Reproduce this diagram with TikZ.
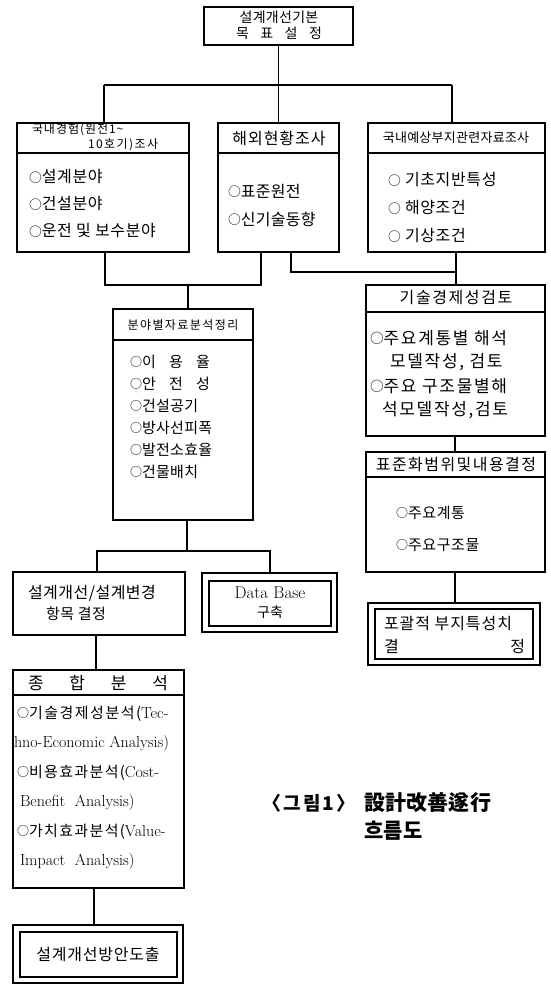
\documentclass[tikz,border=0pt]{standalone}
\usepackage{fontspec}
\usepackage{graphicx}
\newfontfamily\kr{Noto Sans CJK KR}
\newcommand\K[2]{\kr\fontsize{#1}{#1}\selectfont\addfontfeature{LetterSpace=#2}}
\newcommand\LM[1]{\rmfamily\fontsize{#1}{#1}\selectfont}
\newcommand\oo{\raisebox{0.06em}{\scalebox{0.8}{○}}}
\begin{document}
\begin{tikzpicture}[x=1pt,y=-1pt,
  box/.style={draw, line width=1.6pt, rectangle, inner sep=0pt, outer sep=0pt, anchor=north west},
  conn/.style={line width=1.6pt},
  txt/.style={inner sep=0pt, outer sep=0pt},
  itm/.style={txt, anchor=west}]
\useasboundingbox (0,0) rectangle (551,987);

% ---------------- boxes ----------------
\node[box, minimum width=149pt, minimum height=38pt] (top) at (204,7) {};
\node[box, minimum width=172pt, minimum height=129pt] (L) at (17,123) {};
\node[box, minimum width=121pt, minimum height=129pt] (M) at (218,123) {};
\node[box, minimum width=177pt, minimum height=129pt] (R) at (368,123) {};
\node[box, minimum width=179pt, minimum height=151pt] (T) at (366,285) {};
\node[box, minimum width=140pt, minimum height=211pt] (B) at (113,309) {};
\node[box, minimum width=179pt, minimum height=120pt] (S) at (366,452) {};
\node[box, minimum width=172pt, minimum height=62pt] (P) at (368,603) {};
\node[box, minimum width=158pt, minimum height=50pt] (Pin) at (375,609) {};
\node[box, minimum width=172pt, minimum height=63pt] (D) at (13,572) {};
\node[box, minimum width=135pt, minimum height=59pt] (DB) at (202,573) {};
\node[box, minimum width=122pt, minimum height=45pt] (DBin) at (209,581) {};
\node[box, minimum width=171pt, minimum height=218pt] (C) at (13,670) {};
\node[box, minimum width=170pt, minimum height=58pt] (F) at (13,925) {};
\node[box, minimum width=157pt, minimum height=45pt] (Fin) at (20,932) {};

% header separators
\coordinate (hL) at (0,153);
\coordinate (hT) at (0,312);
\coordinate (hB) at (0,340);
\coordinate (hS) at (0,477);
\coordinate (hC) at (0,695);
\draw[conn] (L.west |- hL) -- (L.east |- hL);
\draw[conn] (M.west |- hL) -- (M.east |- hL);
\draw[conn] (R.west |- hL) -- (R.east |- hL);
\draw[conn] (T.west |- hT) -- (T.east |- hT);
\draw[conn] (B.west |- hB) -- (B.east |- hB);
\draw[conn] (S.west |- hS) -- (S.east |- hS);
\draw[conn] (C.west |- hC) -- (C.east |- hC);

% ---------------- connectors ----------------
\coordinate (busL) at (104,85);
\coordinate (busR) at (452,85);
\draw[conn] (top.south) -- (top.south |- busL);
\draw[conn] (busL) -- (busR);
\draw[conn] (busL) -- (busL |- L.north);
\draw[conn] (top.south |- busL) -- (M.north);
\draw[conn] (busR) -- (busR |- R.north);

\coordinate (j1) at (105,285);
\coordinate (j2) at (261,285);
\coordinate (j3) at (188,285);
\draw[conn] (j1 |- L.south) -- (j1) -- (j2) -- (j2 |- M.south);
\draw[conn] (j3) -- (j3 |- B.north);
\coordinate (k1) at (291,272);
\coordinate (k2) at (456,272);
\draw[conn] (k1 |- M.south) -- (k1) -- (k2);
\draw[conn] (k2 |- R.south) -- (k2 |- T.north);
\coordinate (k3) at (455,0);
\draw[conn] (k3 |- T.south) -- (k3 |- S.north);
\draw[conn] (k3 |- S.south) -- (k3 |- P.north);

\coordinate (m1) at (97,551);
\coordinate (m2) at (270,551);
\coordinate (m3) at (187,551);
\draw[conn] (m3 |- B.south) -- (m3);
\draw[conn] (m1 |- D.north) -- (m1) -- (m2) -- (m2 |- DB.north);
\coordinate (n1) at (96,0);
\coordinate (n2) at (94,0);
\draw[conn] (n1 |- D.south) -- (n1 |- C.north);
\draw[conn] (n2 |- C.south) -- (n2 |- F.north);

% ---------------- texts ----------------
\node[txt] (ta1) at (279,17) {\K{14}{2}설계개선기본};
\node[txt] (ta2) at (279,33) {\K{14}{0}\makebox[86pt][s]{목\hfill 표\hfill 설\hfill 정}};

\node[itm] (tl0) at (32,130) {\K{12}{8}국내경험(원전1\textasciitilde};
\node[itm] (tl1) at (88,145) {\K{12}{12}10호기)조사};
\node[itm] (tl2) at (29,177) {\K{16}{4}\oo 설계분야};
\node[itm] (tl3) at (29,204) {\K{16}{4}\oo 건설분야};
\node[itm] (tl4) at (29,231) {\K{16}{4}\oo 운전 및 보수분야};

\node[txt] (tm0) at (279,138) {\K{16}{6}해외현황조사};
\node[itm] (tm1) at (228,191) {\K{16}{2}\oo 표준원전};
\node[itm] (tm2) at (228,219) {\K{16}{2}\oo 신기술동향};

\node[txt] (tr0) at (456,138) {\K{13}{2}국내예상부지관련자료조사};
\node[itm] (tr1) at (388,180) {\K{16}{4}\oo\ 기초지반특성};
\node[itm] (tr2) at (388,208) {\K{16}{4}\oo\ 해양조건};
\node[itm] (tr3) at (388,236) {\K{16}{4}\oo\ 기상조건};

\node[txt] (tt0) at (456,298) {\K{16}{10}기술경제성검토};
\node[itm] (tt1) at (370,338) {\K{17}{10}\oo 주요계통별 해석};
\node[itm] (tt2) at (390,362) {\K{17}{10}모델작성, 검토};
\node[itm] (tt3) at (370,386) {\K{17}{10}\oo 주요 구조물별해};
\node[itm] (tt4) at (382,410) {\K{17}{10}석모델작성,검토};

\node[txt] (tb0) at (183,325) {\K{12}{12}분야별자료분석정리};
\node[itm] (tb1) at (130,362) {\K{15}{0}\makebox[80pt][s]{\oo 이\hfill 용\hfill 율}};
\node[itm] (tb2) at (130,384) {\K{15}{0}\makebox[80pt][s]{\oo 안\hfill 전\hfill 성}};
\node[itm] (tb3) at (130,406) {\K{15}{2}\oo 건설공기};
\node[itm] (tb4) at (130,428) {\K{15}{2}\oo 방사선피폭};
\node[itm] (tb5) at (130,450) {\K{15}{2}\oo 발전소효율};
\node[itm] (tb6) at (130,472) {\K{15}{2}\oo 건물배치};

\node[txt] (ts0) at (456,465) {\K{16}{9}표준화범위및내용결정};
\node[itm] (ts1) at (396,513) {\K{15}{4}\oo 주요계통};
\node[itm] (ts2) at (396,545) {\K{15}{4}\oo 주요구조물};

\node[itm] (tp1) at (384,624) {\K{16}{6}포괄적 부지특성치};
\node[itm] (tp2) at (384,646) {\K{16}{0}\makebox[141pt][s]{결\hfill 정}};

\node[itm] (td1) at (28,593) {\K{16}{3}설계개선/설계변경};
\node[itm] (td2) at (46,614) {\K{15}{3}항목 결정};

\node[txt] (tdb1) at (270,593) {\LM{17}Data Base};
\node[txt] (tdb2) at (270,612) {\K{14}{0}구축};

\node[txt] (tc0) at (98,683) {\K{17}{0}\makebox[140pt][s]{종\hfill 합\hfill 분\hfill 석}};
\node[itm] (tc1) at (17,714) {{\K{15}{10}\oo 기술경제성분석(}{\LM{16}Tec-}};
\node[itm] (tc2) at (14,743) {\LM{16}hno-Economic Analysis)};
\node[itm] (tc3) at (17,773) {{\K{15}{9}\oo 비용효과분석(}{\LM{16}Cost-}};
\node[itm] (tc4) at (20,802) {\LM{16}Benefit\ \ Analysis)};
\node[itm] (tc5) at (17,832) {{\K{15}{9}\oo 가치효과분석(}{\LM{16}Value-}};
\node[itm] (tc6) at (20,861) {\LM{16}Impact\ \ Analysis)};

\node[txt] (tf) at (98,954) {\K{16}{5}설계개선방안도출};

\node[itm] (cap1) at (262,803) {\K{19}{12}\bfseries 〈그림1〉};
\node[itm] (cap2) at (364,803) {\K{21}{1}\bfseries 設計改善遂行};
\node[itm] (cap3) at (364,831) {\K{21}{1}\bfseries 흐름도};
\end{tikzpicture}
\end{document}
